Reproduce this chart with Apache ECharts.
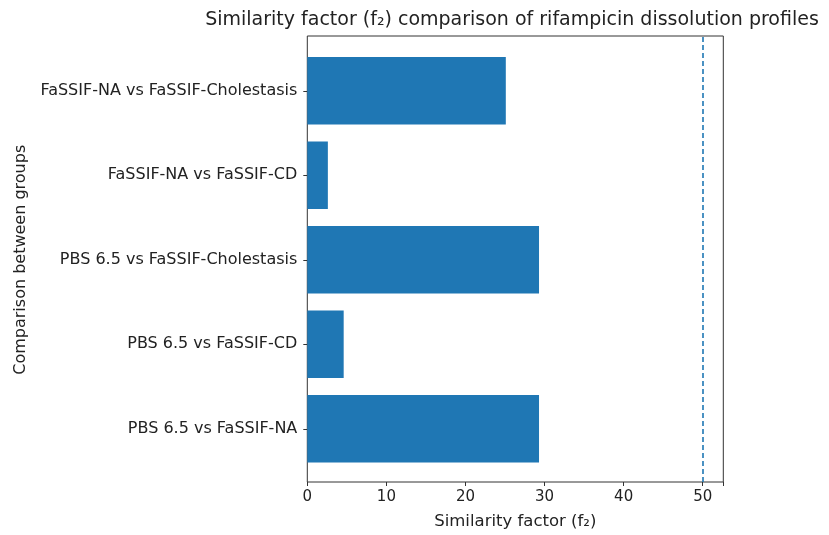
<!DOCTYPE html>
<html><head><meta charset="utf-8">
<script src="https://cdn.jsdelivr.net/npm/echarts@6/dist/echarts.min.js"></script>
<style>html,body{margin:0;padding:0;background:#fff}#c{width:829px;height:535px}</style>
</head><body><div id="c"></div>
<script>
const categories = ["PBS 6.5 vs FaSSIF-NA", "PBS 6.5 vs FaSSIF-CD", "PBS 6.5 vs FaSSIF-Cholestasis", "FaSSIF-NA vs FaSSIF-CD", "FaSSIF-NA vs FaSSIF-Cholestasis"];
const f2Values = [29.3, 4.6, 29.3, 2.6, 25.1];
const threshold = 50;
const xTicks = [0, 10, 20, 30, 40, 50];

const font = "DejaVu Sans";
const chart = echarts.init(document.getElementById('c'), null, {renderer: 'canvas'});
const L = 307.3, R = 829 - 723.3;
chart.setOption({
  animation: false,
  title: {text: "Similarity factor (f\u2082) comparison of rifampicin dissolution profiles", left: 507, top: 6, textAlign: 'center',
    textStyle: {fontFamily: font, fontSize: 19, fontWeight: 'normal', color: '#222'}},
  grid: [
    {left: L, right: R, top: 48.5, bottom: 535 - 471, containLabel: false},
    {left: L, right: R, top: 36, bottom: 535 - 484.7, show: true, borderColor: '#333', borderWidth: 1, backgroundColor: 'transparent', containLabel: false}
  ],
  xAxis: [
    {gridIndex: 0, type: 'value', min: 0, max: 52.6, show: false},
    {gridIndex: 1, type: 'value', min: 0, max: 52.6, interval: 10,
      axisLine: {show: false}, splitLine: {show: false},
      axisTick: {show: true, inside: false, length: 4, lineStyle: {color: '#333'}},
      axisLabel: {fontFamily: font, fontSize: 15, color: '#222', margin: 8,
        customValues: xTicks},
      name: "Similarity factor (f\u2082)", nameLocation: 'middle', nameGap: 31,
      nameTextStyle: {fontFamily: font, fontSize: 16.5, color: '#222'}}
  ],
  yAxis: [
    {gridIndex: 0, type: 'category', data: categories,
      axisLine: {show: false},
      axisTick: {show: true, alignWithLabel: true, length: 4, lineStyle: {color: '#333'}},
      axisLabel: {fontFamily: font, fontSize: 16, color: '#222', margin: 10},
      name: "Comparison between groups", nameLocation: 'middle', nameGap: 278, nameRotate: 90,
      nameTextStyle: {fontFamily: font, fontSize: 16, color: '#222'}},
    {gridIndex: 1, type: 'value', min: 0, max: 1, show: false}
  ],
  series: [
    {type: 'bar', xAxisIndex: 0, yAxisIndex: 0, data: f2Values, barWidth: '80%',
      itemStyle: {color: '#1f77b4'}},
    {type: 'line', xAxisIndex: 1, yAxisIndex: 1, data: [], silent: true,
      markLine: {symbol: 'none', silent: true, label: {show: false},
        lineStyle: {color: '#1f77b4', type: [5, 3], width: 1.6},
        data: [{xAxis: threshold}]}}
  ]
});
</script></body></html>
